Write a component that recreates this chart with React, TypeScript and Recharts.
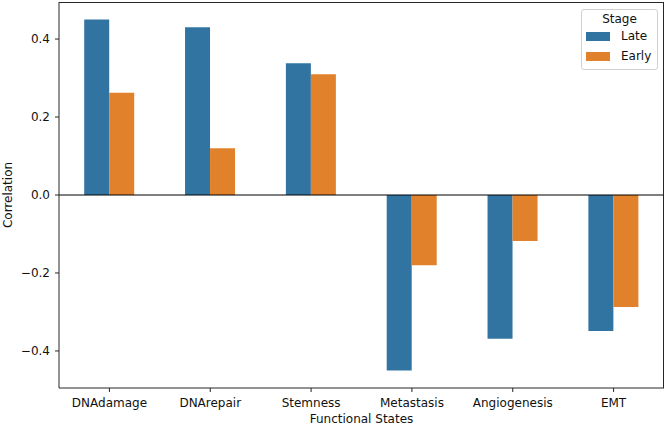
import React from 'react';
import { BarChart, Bar, XAxis, YAxis, ReferenceLine } from 'recharts';

const categories = ['DNAdamage', 'DNArepair', 'Stemness', 'Metastasis', 'Angiogenesis', 'EMT'];
const lateValues = [0.45, 0.43, 0.338, -0.45, -0.369, -0.349];
const earlyValues = [0.262, 0.12, 0.31, -0.18, -0.118, -0.287];
const yTicks = [-0.4, -0.2, 0, 0.2, 0.4];
const seriesNames = ['Late', 'Early'];
const seriesColors = ['#3274A1', '#E1812C'];

const data = categories.map((c, i) => ({ name: c, Late: lateValues[i], Early: earlyValues[i] }));

const FONT = '"DejaVu Sans", sans-serif';
const AXIS = '#262626';

const fmt = (v: number) => {
  const s = Math.abs(v).toFixed(1);
  return v < 0 ? '\u2212' + s : s;
};

const YLabel = (props: any) => {
  const vb = props.viewBox || {};
  const x = 8;
  const y = vb.y + vb.height / 2;
  return (
    <text x={x} y={y} transform={`rotate(-90, ${x}, ${y})`} textAnchor="middle" dominantBaseline="central"
      style={{ fontFamily: FONT, fontSize: 12, fill: '#111' }}>Correlation</text>
  );
};

export default function App() {
  return (
    <div style={{ position: 'absolute', left: 0, top: 0, width: 667, height: 426, background: '#fff' }}>
      <BarChart width={667} height={426} data={data} margin={{ top: 2, right: 3, bottom: 0, left: 0 }}
        barCategoryGap="25%" barGap={0}>
        <XAxis dataKey="name" height={38} tickSize={4} tickMargin={6}
          axisLine={{ stroke: AXIS, strokeWidth: 1 }} tickLine={{ stroke: AXIS }}
          tick={{ fontFamily: FONT, fontSize: 12, fill: '#111' }} interval={0}
          label={{ value: 'Functional States', position: 'insideBottom', offset: 3, style: { fontFamily: FONT, fontSize: 12, fill: '#111' } }} />
        <YAxis width={59} domain={[-0.495, 0.495]} ticks={yTicks} type="number" allowDataOverflow
          tickFormatter={fmt} tickSize={4} tickMargin={5}
          axisLine={{ stroke: AXIS, strokeWidth: 1 }} tickLine={{ stroke: AXIS }}
          tick={{ fontFamily: FONT, fontSize: 12, fill: '#111' }}
          label={<YLabel />} />
        {seriesNames.map((s, i) => (
          <Bar key={s} dataKey={s} fill={seriesColors[i]} isAnimationActive={false} />
        ))}
        <ReferenceLine y={0} stroke="#000" strokeWidth={1.2} />
      </BarChart>
      <div style={{
        position: 'absolute', left: 59, top: 1.5, width: 604.5, height: 386, boxSizing: 'border-box',
        borderTop: `1px solid ${AXIS}`, borderRight: `1px solid ${AXIS}`, pointerEvents: 'none'
      }} />
      <div style={{
        position: 'absolute', left: 581, top: 9, width: 75, height: 59, border: '1px solid #d0d0d0',
        borderRadius: 3, background: 'rgba(255,255,255,0.8)', fontFamily: FONT, fontSize: 12, color: '#111'
      }}>
        <div style={{ position: 'absolute', left: 0, width: '100%', top: 2, textAlign: 'center' }}>Stage</div>
        {seriesNames.map((s, i) => (
          <React.Fragment key={s}>
            <div style={{ position: 'absolute', left: 4, top: 22 + i * 20, width: 24, height: 9, background: seriesColors[i] }} />
            <div style={{ position: 'absolute', left: 39, top: 19 + i * 20 }}>{s}</div>
          </React.Fragment>
        ))}
      </div>
    </div>
  );
}
